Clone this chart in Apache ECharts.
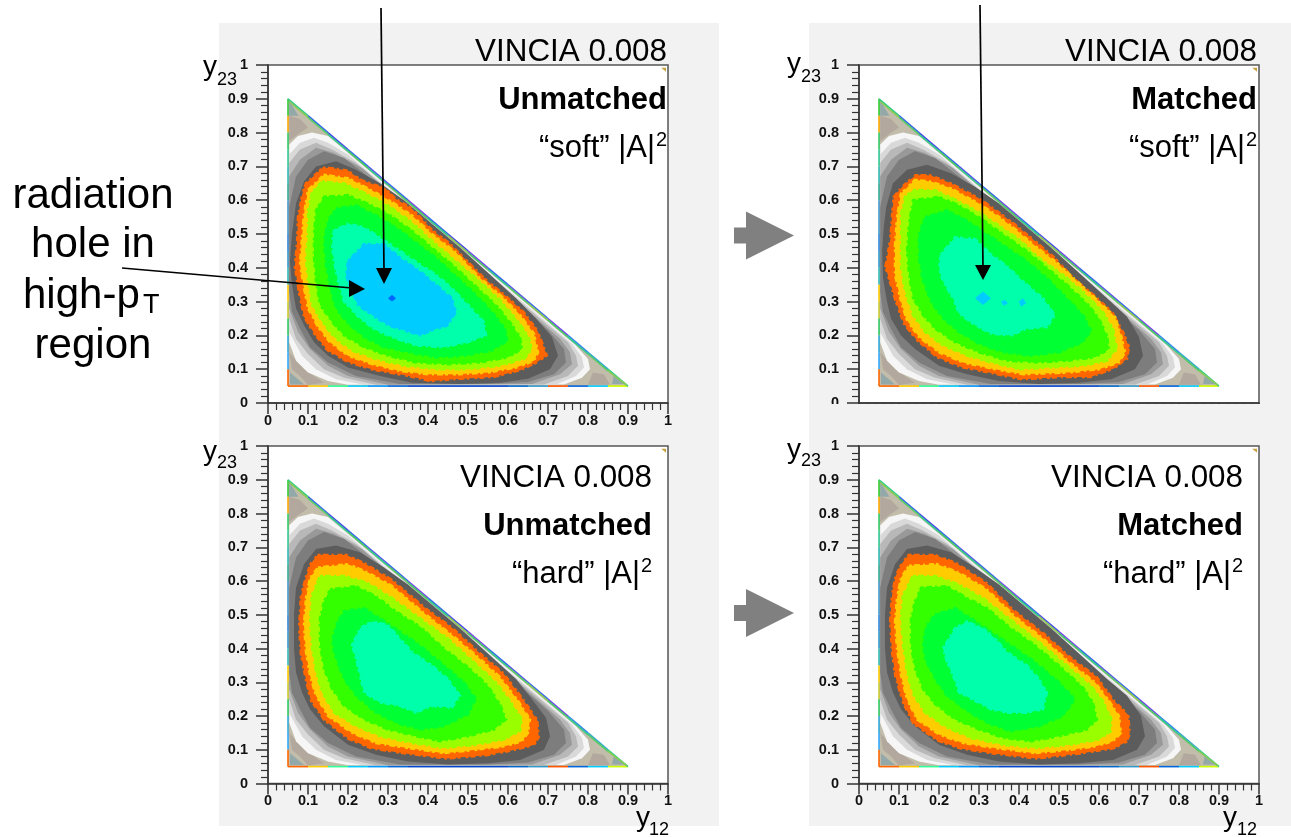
<!DOCTYPE html>
<html><head><meta charset="utf-8">
<style>html,body{margin:0;padding:0;background:#fff}#c{width:1291px;height:837px}</style>
<script src="https://cdn.jsdelivr.net/npm/echarts@6/dist/echarts.min.js"></script>
</head><body><div id="c"></div>
<script>
const tickLabels = ['0','0.1','0.2','0.3','0.4','0.5','0.6','0.7','0.8','0.9','1'];

// Outer contours (y12, y23); nearly the same in all four plots
const baseTriangle = [[.05,.9],[.9,.05],[.05,.05]];
const brownTop = [[.053,.85],[.08,.84],[.1,.815],[.075,.795],[.053,.775]];
const brownLeft = [[.053,.15],[.09,.1],[.14,.06],[.1,.053],[.08,.08],[.06,.1]];
const brownRight = [[.84,.085],[.855,.054],[.8,.054],[.812,.09]];
const tealTop = [[.053,.895],[.076,.85],[.053,.85]];
const tealLeft = [[.055,.055],[.09,.055],[.055,.09]];
const tealRight = [[.86,.056],[.895,.056],[.865,.085]];
const cornerBin = [[.983,.992],[.995,.992],[.995,.98]];
const whiteBand = [[.053,.765],[.075,.79],[.11,.8],[.15,.79],[.185,.755],[.4,.54],[.6,.34],[.77,.17],[.8,.13],[.805,.1],[.785,.075],[.74,.055],[.2,.054],[.15,.065],[.1,.09],[.07,.125],[.053,.18]];
const paleGrey = [[.053,.735],[.08,.77],[.115,.785],[.15,.77],[.2,.735],[.4,.535],[.6,.335],[.76,.175],[.785,.135],[.79,.105],[.77,.08],[.72,.055],[.24,.054],[.17,.07],[.12,.1],[.085,.14],[.053,.21]];
const lightGrey = [[.053,.71],[.08,.75],[.12,.77],[.16,.75],[.22,.71],[.4,.53],[.6,.33],[.75,.18],[.77,.14],[.775,.11],[.75,.08],[.69,.055],[.27,.054],[.19,.075],[.14,.1],[.1,.145],[.07,.19],[.053,.25]];
const midGrey = [[.053,.67],[.08,.72],[.12,.755],[.165,.74],[.235,.695],[.4,.525],[.6,.325],[.73,.19],[.755,.15],[.76,.115],[.73,.085],[.66,.056],[.3,.054],[.2,.08],[.15,.11],[.105,.16],[.075,.21],[.053,.28]];
const steelGrey = [[.053,.58],[.07,.67],[.1,.72],[.14,.745],[.19,.725],[.25,.67],[.33,.595],[.42,.505],[.5,.425],[.6,.32],[.7,.215],[.74,.16],[.745,.12],[.715,.085],[.65,.062],[.55,.056],[.33,.056],[.22,.08],[.15,.12],[.105,.165],[.08,.22],[.06,.27],[.053,.33]];

// Inner contours per plot: dark, orange, yellow, lime, green, deep green, spring, cyan...
const softUnmatched = [
 [[.07,.59],[.09,.655],[.12,.7],[.17,.715],[.22,.69],[.28,.65],[.34,.6],[.4,.54],[.48,.46],[.55,.385],[.62,.31],[.67,.25],[.71,.195],[.725,.14],[.705,.1],[.65,.072],[.58,.06],[.48,.056],[.36,.06],[.28,.08],[.2,.105],[.15,.14],[.115,.18],[.09,.23],[.07,.28],[.06,.35],[.055,.42],[.06,.5]],
 [[.137,.696],[.167,.694],[.2,.687],[.234,.659],[.293,.635],[.318,.605],[.36,.575],[.411,.511],[.454,.472],[.496,.422],[.546,.363],[.597,.314],[.639,.269],[.673,.215],[.686,.176],[.697,.141],[.673,.121],[.631,.097],[.563,.077],[.479,.072],[.407,.065],[.344,.082],[.268,.097],[.2,.121],[.149,.156],[.116,.205],[.09,.255],[.078,.324],[.067,.403],[.073,.482],[.075,.551],[.086,.62],[.095,.65]],
 [[.14,.675],[.2,.665],[.25,.635],[.31,.595],[.36,.555],[.41,.5],[.47,.445],[.53,.37],[.59,.31],[.63,.26],[.665,.205],[.675,.15],[.665,.125],[.62,.105],[.55,.09],[.47,.085],[.4,.085],[.33,.095],[.26,.115],[.2,.14],[.155,.18],[.125,.225],[.1,.28],[.09,.34],[.08,.41],[.085,.49],[.09,.56],[.1,.63]],
 [[.135,.655],[.19,.65],[.245,.62],[.3,.585],[.36,.535],[.41,.48],[.47,.42],[.53,.36],[.58,.305],[.62,.25],[.65,.2],[.66,.16],[.64,.13],[.58,.11],[.5,.1],[.42,.1],[.34,.11],[.27,.13],[.21,.155],[.165,.195],[.135,.24],[.11,.29],[.1,.36],[.095,.43],[.1,.5],[.1,.57],[.11,.625]],
 [[.14,.61],[.2,.615],[.25,.59],[.3,.56],[.36,.51],[.42,.45],[.47,.4],[.52,.345],[.57,.29],[.605,.24],[.63,.195],[.635,.16],[.6,.135],[.53,.12],[.45,.115],[.37,.12],[.3,.14],[.24,.165],[.19,.2],[.16,.24],[.13,.29],[.12,.36],[.115,.43],[.115,.5],[.12,.57]],
 [[.17,.575],[.22,.585],[.27,.555],[.32,.52],[.37,.475],[.42,.43],[.47,.375],[.52,.32],[.56,.27],[.59,.225],[.6,.185],[.56,.155],[.49,.14],[.42,.135],[.35,.15],[.29,.165],[.24,.195],[.2,.235],[.17,.28],[.155,.34],[.145,.41],[.14,.48],[.15,.54]],
 [[.165,.51],[.2,.53],[.24,.52],[.28,.49],[.33,.45],[.38,.41],[.42,.38],[.46,.34],[.5,.29],[.54,.24],[.545,.2],[.5,.18],[.44,.165],[.37,.17],[.32,.19],[.27,.215],[.23,.25],[.19,.3],[.175,.36],[.165,.42],[.16,.47]],
 [[.2,.42],[.24,.47],[.29,.47],[.33,.43],[.38,.39],[.42,.35],[.46,.31],[.47,.27],[.45,.23],[.41,.215],[.38,.2],[.34,.215],[.3,.23],[.26,.26],[.225,.29],[.21,.33],[.195,.38]],
 [[.3,.31],[.31,.32],[.32,.31],[.31,.3]]
];
const softUnmatchedLevels = [0,1,2,3,4,5,6,7,8];

const softMatched = [
 [[.068,.58],[.085,.65],[.12,.69],[.17,.705],[.23,.68],[.29,.64],[.35,.59],[.41,.53],[.48,.46],[.55,.385],[.62,.31],[.67,.255],[.7,.195],[.71,.14],[.69,.1],[.63,.07],[.55,.06],[.45,.056],[.35,.065],[.27,.085],[.2,.11],[.14,.16],[.105,.2],[.08,.25],[.07,.3],[.06,.37],[.058,.45],[.062,.52]],
 [[.141,.674],[.178,.674],[.229,.65],[.304,.603],[.337,.575],[.387,.531],[.437,.482],[.487,.432],[.537,.368],[.587,.319],[.633,.269],[.662,.205],[.675,.166],[.67,.131],[.637,.102],[.579,.077],[.504,.077],[.408,.07],[.337,.087],[.254,.107],[.195,.136],[.145,.186],[.112,.235],[.091,.304],[.066,.403],[.078,.482],[.083,.561],[.087,.61],[.108,.64]],
 [[.14,.66],[.18,.655],[.23,.635],[.3,.59],[.345,.555],[.39,.515],[.44,.465],[.5,.41],[.55,.355],[.6,.3],[.64,.255],[.655,.2],[.665,.15],[.65,.12],[.6,.1],[.52,.09],[.41,.085],[.34,.1],[.26,.12],[.2,.15],[.15,.195],[.12,.245],[.105,.3],[.09,.38],[.09,.47],[.095,.55],[.105,.62]],
 [[.135,.63],[.19,.63],[.245,.6],[.3,.565],[.35,.525],[.4,.485],[.45,.43],[.51,.38],[.56,.33],[.61,.27],[.635,.22],[.645,.16],[.62,.125],[.56,.11],[.48,.105],[.4,.1],[.33,.12],[.27,.14],[.21,.17],[.165,.21],[.135,.26],[.115,.33],[.105,.4],[.105,.48],[.105,.56],[.115,.61]],
 [[.135,.6],[.2,.61],[.25,.585],[.3,.55],[.36,.5],[.42,.45],[.47,.4],[.52,.35],[.57,.295],[.6,.25],[.62,.2],[.625,.16],[.59,.135],[.52,.125],[.45,.12],[.37,.125],[.3,.15],[.24,.18],[.19,.22],[.16,.26],[.135,.31],[.125,.38],[.12,.45],[.125,.53]],
 [[.165,.55],[.22,.57],[.27,.54],[.32,.5],[.37,.46],[.42,.42],[.47,.37],[.52,.31],[.56,.26],[.58,.215],[.56,.18],[.5,.15],[.43,.14],[.36,.15],[.3,.175],[.25,.21],[.21,.25],[.18,.3],[.16,.36],[.15,.43],[.15,.5]],
 [[.205,.44],[.24,.49],[.29,.485],[.33,.44],[.37,.405],[.41,.36],[.46,.31],[.49,.26],[.47,.225],[.42,.22],[.38,.2],[.33,.205],[.29,.23],[.25,.265],[.235,.31],[.21,.36],[.2,.4]],
 [[.29,.31],[.31,.33],[.33,.31],[.31,.29]],
 [[.355,.3],[.365,.305],[.372,.295],[.362,.288]],
 [[.4,.3],[.41,.31],[.418,.295],[.405,.285]]
];
const softMatchedLevels = [0,1,2,3,4,5,6,7,7,7];

const hardUnmatched = [
 [[.07,.58],[.09,.65],[.12,.695],[.17,.705],[.23,.685],[.29,.64],[.35,.59],[.41,.53],[.48,.46],[.55,.385],[.62,.31],[.66,.25],[.695,.195],[.705,.14],[.69,.1],[.63,.07],[.55,.06],[.45,.056],[.35,.065],[.27,.085],[.2,.115],[.14,.17],[.105,.22],[.085,.27],[.07,.33],[.065,.4],[.065,.5]],
 [[.124,.677],[.196,.677],[.242,.652],[.31,.603],[.394,.519],[.462,.46],[.521,.395],[.589,.326],[.639,.247],[.673,.188],[.677,.138],[.665,.114],[.614,.099],[.546,.084],[.445,.074],[.344,.089],[.259,.104],[.2,.133],[.141,.188],[.107,.247],[.095,.306],[.082,.385],[.078,.464],[.082,.553],[.095,.613],[.107,.652]],
 [[.125,.64],[.2,.65],[.25,.625],[.31,.585],[.39,.505],[.46,.44],[.52,.38],[.58,.315],[.625,.245],[.655,.19],[.65,.15],[.635,.125],[.59,.11],[.52,.1],[.44,.09],[.35,.105],[.27,.12],[.21,.15],[.15,.2],[.12,.26],[.105,.32],[.095,.39],[.09,.47],[.095,.55],[.105,.61]],
 [[.13,.615],[.19,.615],[.25,.595],[.31,.55],[.38,.49],[.45,.43],[.51,.365],[.57,.3],[.605,.245],[.635,.19],[.63,.155],[.59,.13],[.52,.115],[.44,.105],[.36,.12],[.28,.14],[.22,.17],[.165,.21],[.135,.27],[.12,.33],[.11,.4],[.105,.48],[.11,.56]],
 [[.155,.575],[.22,.585],[.27,.555],[.32,.51],[.38,.465],[.44,.4],[.5,.345],[.55,.29],[.58,.235],[.595,.19],[.565,.16],[.5,.14],[.43,.125],[.37,.14],[.3,.16],[.24,.19],[.19,.23],[.16,.28],[.14,.34],[.13,.41],[.13,.49],[.14,.54]],
 [[.19,.51],[.24,.52],[.28,.49],[.33,.45],[.38,.41],[.43,.36],[.49,.3],[.52,.25],[.5,.205],[.44,.17],[.38,.16],[.32,.18],[.27,.21],[.22,.26],[.19,.31],[.17,.37],[.16,.42],[.17,.47]],
 [[.21,.41],[.23,.46],[.26,.48],[.3,.47],[.33,.43],[.36,.39],[.41,.35],[.45,.31],[.48,.26],[.46,.225],[.41,.23],[.37,.21],[.33,.23],[.28,.24],[.24,.27],[.23,.32],[.22,.37]]
];
const hardUnmatchedLevels = [0,1,2,3,4,5,6];

const hardMatched = [
 [[.07,.58],[.09,.65],[.12,.695],[.17,.705],[.23,.685],[.29,.64],[.35,.59],[.41,.53],[.48,.46],[.55,.385],[.62,.31],[.67,.26],[.705,.2],[.715,.14],[.695,.1],[.635,.07],[.55,.06],[.45,.056],[.35,.065],[.27,.085],[.2,.115],[.14,.17],[.105,.22],[.085,.27],[.07,.33],[.065,.4],[.065,.5]],
 [[.124,.677],[.19,.677],[.245,.652],[.32,.593],[.386,.514],[.461,.445],[.527,.375],[.594,.316],[.636,.247],[.673,.203],[.677,.148],[.669,.124],[.636,.104],[.552,.089],[.444,.074],[.336,.089],[.253,.104],[.195,.128],[.136,.178],[.111,.237],[.091,.316],[.082,.395],[.078,.484],[.082,.553],[.091,.613],[.107,.652]],
 [[.125,.645],[.195,.65],[.25,.625],[.32,.575],[.39,.495],[.46,.43],[.525,.36],[.59,.3],[.625,.245],[.65,.2],[.655,.15],[.635,.125],[.59,.11],[.53,.1],[.44,.09],[.34,.105],[.26,.12],[.2,.145],[.145,.19],[.12,.25],[.105,.32],[.095,.4],[.09,.48],[.095,.55],[.105,.61]],
 [[.135,.615],[.19,.615],[.25,.59],[.31,.55],[.38,.485],[.45,.42],[.52,.35],[.58,.29],[.61,.245],[.63,.195],[.63,.155],[.6,.13],[.53,.115],[.44,.105],[.36,.115],[.28,.135],[.22,.165],[.165,.21],[.135,.265],[.12,.33],[.11,.41],[.105,.49],[.11,.56]],
 [[.155,.58],[.22,.585],[.27,.55],[.32,.52],[.38,.46],[.44,.41],[.5,.35],[.56,.285],[.585,.24],[.595,.19],[.57,.16],[.5,.14],[.43,.125],[.36,.135],[.3,.16],[.24,.19],[.19,.235],[.16,.28],[.14,.34],[.13,.41],[.13,.49],[.14,.54]],
 [[.19,.5],[.24,.52],[.28,.49],[.33,.45],[.38,.41],[.44,.36],[.5,.3],[.54,.25],[.51,.2],[.45,.17],[.38,.155],[.32,.18],[.27,.215],[.22,.26],[.19,.31],[.165,.37],[.16,.42],[.17,.47]],
 [[.21,.4],[.24,.46],[.27,.48],[.31,.46],[.34,.43],[.37,.39],[.42,.35],[.45,.31],[.47,.27],[.46,.22],[.42,.21],[.37,.21],[.33,.22],[.29,.245],[.25,.27],[.235,.32],[.22,.36]]
];
const hardMatchedLevels = [0,1,2,3,4,5,6];

// The thin rainbow rim of the triangle, read at every 0.05
const leftRim = [.9,.85,.8,.75,.7,.65,.6,.55,.5,.45,.4,.35,.3,.25,.2,.15,.1,.05].map(y=>[.05,y]);
const bottomRim = [.05,.1,.15,.2,.25,.3,.35,.4,.45,.5,.55,.6,.65,.7,.75,.8,.85,.9].map(x=>[x,.05]);
const hypRimOuter = [[.05,.9],[.1,.85],[.15,.8],[.2,.75],[.25,.7],[.3,.65],[.35,.6],[.4,.55],[.45,.5],[.5,.45],[.55,.4],[.6,.35],[.65,.3],[.7,.25],[.75,.2],[.8,.15],[.85,.1],[.9,.05]];
const hypRimInner = [[.053,.892],[.1,.845],[.15,.795],[.2,.745],[.25,.695],[.3,.645],[.35,.595],[.4,.545],[.45,.495],[.5,.445],[.55,.395],[.6,.345],[.65,.295],[.7,.245],[.75,.195],[.8,.145],[.85,.095],[.897,.053]];
const leftRimColors = ['#33cc33','#ffaa00','#33cc66','#33cc99','#33bbbb','#33aa99','#4499cc','#4499cc','#3388dd','#3399cc','#33bbbb','#ffcc00','#cccc33','#33cc66','#33aadd','#33aaff','#ff6600'];
const bottomRimColors = ['#ff6600','#ffcc00','#33ff99','#00ccff','#0099ff','#0066dd','#0044cc','#0044cc','#0044cc','#0044cc','#0044cc','#0066cc','#3399cc','#ff5500','#0066dd','#00ccff','#ccff00'];
const hypOuterColors = ['#33cc88','#3366ee','#4444ee','#3366ee','#5555ee','#3366ee','#7744ee','#3366ee','#4444ee','#7744ee','#3366ee','#5555ee','#3366ee','#7744ee','#3388ee','#33aacc','#33cc88'];
const hypInnerColors = ['#88cc55','#55cc66','#33cc88','#44cc66','#33cc88','#55cc66','#44cc66','#33cc88','#88cc55','#44cc66','#33cc88','#55cc66','#88cc55','#44cc66','#33cc88','#55cc66','#88cc55'];

const outerFills = ['#c2bdab','#b3a89e','#b3a89e','#b3a89e','#93a8a8','#93a8a8','#93a8a8','#c8a040','#f6f6f6','#d9d9d9','#b8b8b8','#999999','#7d7d7d'];
const innerFills = ['#5c5c5c','#ff6600','#ffcc00','#99ff00','#33ff00','#00ff33','#00ffaa','#00ccff','#0066ff'];
const outerContours = [baseTriangle,brownTop,brownLeft,brownRight,tealTop,tealLeft,tealRight,cornerBin,whiteBand,paleGrey,lightGrey,midGrey,steelGrey];

const FONT = '"Liberation Sans", Arial, sans-serif';
const plots = [
 {rect:[268,65,400,338], inner:softUnmatched, levels:softUnmatchedLevels, xLabels:true},
 {rect:[859,65,400,338], inner:softMatched, levels:softMatchedLevels, xLabels:false},
 {rect:[268,446,400,337.5], inner:hardUnmatched, levels:hardUnmatchedLevels, xLabels:true},
 {rect:[859,446,400,337.5], inner:hardMatched, levels:hardMatchedLevels, xLabels:true}
];

function axisCommon(isX, labels){
  return {
    type:'value', min:0, max:1, interval:.1,
    axisLine:{show:true, onZero:false, lineStyle:{color:'#333', width:1.5}},
    axisTick:{show:true, length: isX ? (labels?11:1) : 12, lineStyle:{color:'#333', width:1.5}},
    minorTick:{show:true, splitNumber:5, length: isX ? (labels?7:1) : 7, lineStyle:{color:'#333', width:1.2}},
    splitLine:{show:false},
    axisLabel:{show:labels, margin: isX ? 10 : 20, color:'#111', fontFamily:FONT, fontWeight:'bold', fontSize:14.5,
      showMinLabel:true, showMaxLabel:true, hideOverlap:false,
      formatter:(v)=>tickLabels[Math.round(v*10)]}
  };
}
const grid=[], xAxis=[], yAxis=[], series=[];
const roughEdge = [3,2,6,3,2,4,5,2,3,5]; // binned contours have a stepped, irregular edge
plots.forEach((p,k)=>{
  grid.push({left:p.rect[0], top:p.rect[1], width:p.rect[2], height:p.rect[3], show:true, backgroundColor:'#fff', borderColor:'#555', borderWidth:1.5});
  xAxis.push(Object.assign(axisCommon(true,p.xLabels),{gridIndex:k}));
  yAxis.push(Object.assign(axisCommon(false,true),{gridIndex:k}));
  const polys = outerContours.concat(p.inner);
  const fills = outerFills.concat(p.levels.map(l=>innerFills[l]));
  series.push({
    type:'custom', coordinateSystem:'cartesian2d', xAxisIndex:k, yAxisIndex:k, silent:true, animation:false,
    data: polys.map((_,i)=>[i]),
    encode:{x:-1,y:-1},
    renderItem:(params,api)=>{
      const i = api.value(0);
      const rough = i>outerContours.length && polys[i].length>4;
      return {type:'polygon', shape:{points:polys[i].map(q=>api.coord(q))},
        style: rough ? {fill:fills[i], stroke:fills[i], lineWidth:2.5, lineDash:roughEdge} : {fill:fills[i], stroke:null}};
    }
  });
  const rims = [[leftRim,leftRimColors],[bottomRim,bottomRimColors],[hypRimOuter,hypOuterColors],[hypRimInner,hypInnerColors]];
  rims.forEach(([pts,cols])=>{
    series.push({
      type:'custom', coordinateSystem:'cartesian2d', xAxisIndex:k, yAxisIndex:k, silent:true, animation:false,
      data: cols.map((_,i)=>[i]),
      encode:{x:-1,y:-1},
      renderItem:(params,api)=>{
        const i = api.value(0), a = api.coord(pts[i]), b = api.coord(pts[i+1]);
        return {type:'line', shape:{x1:a[0],y1:a[1],x2:b[0],y2:b[1]}, style:{stroke:cols[i], lineWidth:1.6}};
      }
    });
  });
});

// Page furniture: grey panels, texts, arrows
const txt=(text,x,y,size,align,weight)=>({type:'text', z:100, silent:true, style:{text, x, y, fill:'#000', font:(weight||'normal')+' '+size+'px '+FONT, textAlign:align||'left', textVerticalAlign:'middle'}});
const vincia=(right,y0,b,c)=>[
  txt('VINCIA 0.008',right,y0,31.4,'right'),
  txt(b,right,y0+48,31,'right','bold'),
  txt(c,right-12,y0+96,31,'right'),
  txt('2',right,y0+88,20,'right')
];
const yLab=(x,y,sx,sy,s)=>[txt('y',x,y,28),txt(s,sx,sy,18)];
const arrow=(x1,y1,x2,y2,head)=>[
  {type:'line', z:120, silent:true, shape:{x1,y1,x2,y2}, style:{stroke:'#000', lineWidth:1.7}},
  {type:'polygon', z:121, silent:true, shape:{points:head}, style:{fill:'#000'}}
];
const block=(cy)=>({type:'polygon', z:100, silent:true, shape:{points:[[734,cy-8],[746,cy-8],[746,cy-24],[794,cy],[746,cy+24],[746,cy+8],[734,cy+8]]}, style:{fill:'#808080'}});
const graphic=[
  {type:'rect', z:-10, silent:true, shape:{x:219,y:23,width:500,height:803}, style:{fill:'#f2f2f2'}},
  {type:'rect', z:-10, silent:true, shape:{x:809,y:23,width:482,height:803}, style:{fill:'#f2f2f2'}},
  {type:'rect', z:50, silent:true, shape:{x:809,y:404,width:482,height:26}, style:{fill:'#f2f2f2'}},
  ...vincia(667,52,'Unmatched','“soft” |A|'),
  ...vincia(1257,52,'Matched','“soft” |A|'),
  ...vincia(652,478,'Unmatched','“hard” |A|'),
  ...vincia(1243,478,'Matched','“hard” |A|'),
  ...yLab(203,67,217,80,'23'), ...yLab(787,64,801,77,'23'),
  ...yLab(203,452,217,463,'23'), ...yLab(787,450,801,461,'23'),
  ...yLab(636,818,649,830,'12'), ...yLab(1223,818,1237,830,'12'),
  txt('radiation',93,196,42,'center'),
  txt('hole in',93,245,42,'center'),
  txt('high-p',23,296,42,'left'),
  txt('T',143,306,27,'left'),
  txt('region',93,346,42,'center'),
  ...arrow(381,8,384,270,[[376,268],[392,268],[384,284]]),
  ...arrow(122,268,352,288,[[349,280],[365,289],[349,297]]),
  ...arrow(980,5,983,268,[[975,265],[991,265],[983,280]]),
  block(235.5), block(613)
];

const chart = echarts.init(document.getElementById('c'));
chart.setOption({animation:false, grid, xAxis, yAxis, series, graphic, tooltip:{show:false}});
</script></body></html>
